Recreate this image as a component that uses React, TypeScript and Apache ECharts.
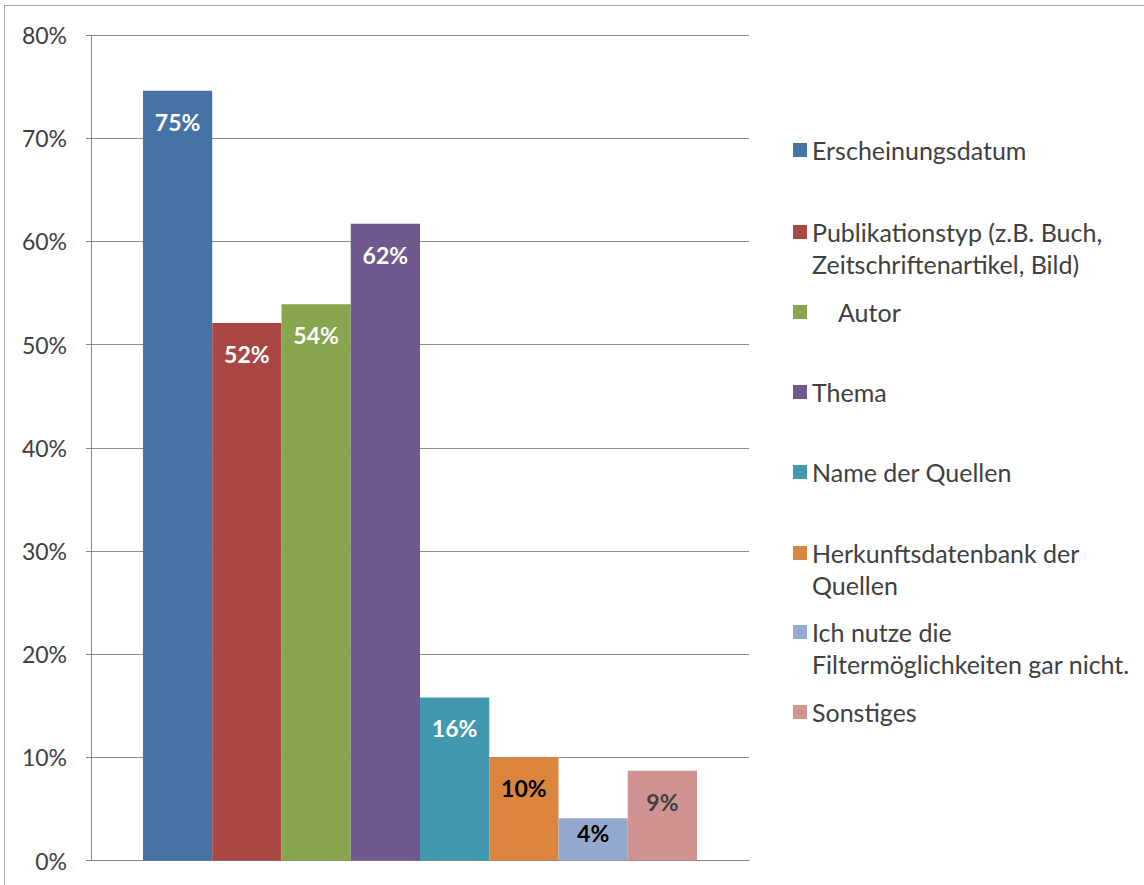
import React, { useEffect, useRef } from "react";
import * as echarts from "echarts";

const seriesNames: string[] = [
  "Erscheinungsdatum",
  "Publikationstyp (z.B. Buch,\nZeitschriftenartikel, Bild)",
  "Autor",
  "Thema",
  "Name der Quellen",
  "Herkunftsdatenbank der\nQuellen",
  "Ich nutze die\nFiltermöglichkeiten gar nicht.",
  "Sonstiges",
];
const seriesValues: number[] = [74.6, 52.1, 53.9, 61.7, 15.8, 10.0, 4.1, 8.7];
const categories: string[] = [""];
const yTicks = { min: 0, max: 80, interval: 10 };

const barColors = ["#4572A7", "#AA4643", "#89A54E", "#71588F", "#4198AF", "#DB843D", "#93A9CF", "#D19392"];
const labelColors = ["#FFFFFF", "#FFFFFF", "#FFFFFF", "#FFFFFF", "#FFFFFF", "#000000", "#000000", "#404040"];
const legendCenters = [150, 232, 312, 392, 472, 553, 632, 712];

const FONT = "Lato, 'Open Sans', sans-serif";
const LINE_H = 32;

export default function App() {
  const ref = useRef<HTMLDivElement>(null);
  useEffect(() => {
    if (!ref.current) return;
    const chart = echarts.init(ref.current, undefined, { renderer: "svg" });

    const series = seriesNames.map((name, i) => {
      const short = seriesValues[i] < 6;
      return {
        type: "bar",
        name,
        data: [seriesValues[i]],
        barGap: "0%",
        barCategoryGap: "15.8%",
        itemStyle: { color: barColors[i] },
        label: {
          show: true,
          position: short ? "inside" : "insideTop",
          distance: 16,
          offset: short ? [0, -6] : [0, 0],
          fontFamily: FONT,
          fontSize: 23,
          fontWeight: "bold",
          lineHeight: 30,
          color: labelColors[i],
          formatter: (p: any) => Math.round(p.value) + "%",
        },
      };
    });

    const legends = seriesNames.map((name, i) => {
      const twoLines = name.indexOf("\n") >= 0;
      const half = twoLines ? (LINE_H * 3) / 2 : LINE_H / 2;
      return {
        data: [name],
        left: 793,
        top: legendCenters[i] - half,
        padding: 0,
        itemWidth: 14,
        itemHeight: 14,
        icon: "rect",
        selectedMode: false,
        formatter: (n: string) => (twoLines ? " \n" + n : n),
        textStyle: {
          fontFamily: FONT,
          fontSize: 25,
          color: "#404040",
          lineHeight: LINE_H,
          padding: name === "Autor" ? [0, 0, 0, 26] : 0,
        },
      };
    });

    chart.setOption({
      animation: false,
      backgroundColor: "#ffffff",
      graphic: [
        {
          type: "rect",
          silent: true,
          z: -10,
          shape: { x: 4.5, y: 5.5, width: 1300, height: 1000 },
          style: { fill: "none", stroke: "#a6a6a6", lineWidth: 1 },
        },
      ],
      grid: { left: 91, top: 35, width: 658, height: 825.5, containLabel: false },
      legend: legends,
      xAxis: {
        type: "category",
        data: categories,
        axisLine: { show: true, lineStyle: { color: "#868686", width: 1 } },
        axisTick: { show: false },
        axisLabel: { show: false },
        splitLine: { show: false },
      },
      yAxis: {
        type: "value",
        min: yTicks.min,
        max: yTicks.max,
        interval: yTicks.interval,
        axisLine: { show: true, lineStyle: { color: "#868686", width: 1 } },
        axisTick: { show: true, length: 5, lineStyle: { color: "#868686" } },
        axisLabel: {
          formatter: "{value}%",
          margin: 24,
          fontFamily: FONT,
          fontSize: 23,
          color: "#404040",
        },
        splitLine: { show: true, lineStyle: { color: "#8c8c8c", width: 1 } },
      },
      series,
    });
    return () => chart.dispose();
  }, []);
  return (
    <div
      ref={ref}
      style={{ position: "fixed", left: 0, top: 0, width: 1144, height: 885, background: "#fff" }}
    />
  );
}
